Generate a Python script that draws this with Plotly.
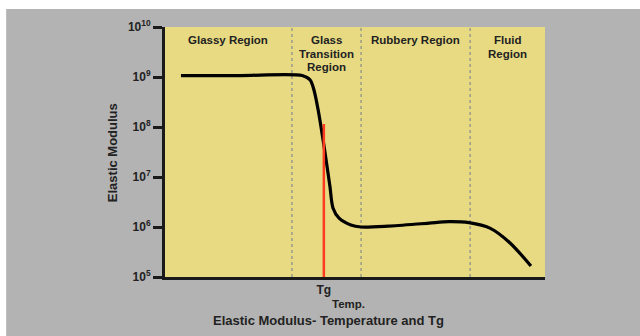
import plotly.graph_objects as go

# Temperature (arbitrary units) and elastic modulus (Pa) along the curve
temp = [4.2, 20, 36.1, 38.2, 39.2, 40.3, 42.0, 43.4, 44.2, 45.8, 48.9, 51.6,
        58.7, 69.5, 74.7, 80.0, 85.5, 90.8, 96.3]
modulus = [1.07e9, 1.07e9, 1.07e9, 8.7e8, 5.5e8, 2.2e8, 3.5e7, 6.5e6, 2.4e6,
           1.5e6, 1.1e6, 1.0e6, 1.04e6, 1.2e6, 1.28e6, 1.22e6, 9.5e5, 4.8e5,
           1.66e5]

# Region boundaries and glass transition temperature
boundaries = [33.4, 51.6, 80.3]
tg = 41.8
tg_top = 1.15e8
x_min, x_max = 0, 100

regions = [["Glassy Region"], ["Glass", "Transition", "Region"],
           ["Rubbery Region"], ["Fluid", "Region"]]

y_tick_vals = [1e5, 1e6, 1e7, 1e8, 1e9, 1e10]
y_tick_text = ["<b>10<sup>5</sup></b>", "<b>10<sup>6</sup></b>",
               "<b>10<sup>7</sup></b>", "<b>10<sup>8</sup></b>",
               "<b>10<sup>9</sup></b>", "<b>10<sup>10</sup></b>"]

FONT = "Liberation Sans, Arial, sans-serif"
TXT = "#222222"

fig = go.Figure()

# Modulus curve
fig.add_trace(go.Scatter(
    x=temp, y=modulus, mode="lines",
    line=dict(color="#000000", width=3.2, shape="spline", smoothing=0.8),
    showlegend=False))

# Glass transition temperature marker line (drawn above the curve)
fig.add_trace(go.Scatter(
    x=[tg, tg], y=[1e5, tg_top], mode="lines",
    line=dict(color="#ff3b1f", width=2.5), hoverinfo="skip", showlegend=False))

# Dashed region dividers
for b in boundaries:
    fig.add_shape(type="line", xref="x", yref="paper", x0=b, x1=b, y0=0, y1=1,
                  line=dict(color="#9a9a8a", width=1.5, dash="dot"),
                  layer="below")

# Region labels centred in each band, one annotation per line for tight leading
edges = [x_min] + boundaries + [x_max]
for i, lines in enumerate(regions):
    for j, line in enumerate(lines):
        fig.add_annotation(x=(edges[i] + edges[i + 1]) / 2, y=1, xref="x",
                           yref="paper", yanchor="middle",
                           yshift=-13 - 13.5 * j,
                           text="<b>" + line + "</b>", showarrow=False,
                           font=dict(family=FONT, size=11.5, color=TXT),
                           align="center")

# Thin white frame strips along the top and left edges
fig.add_shape(type="rect", xref="paper", yref="paper", x0=-0.5, x1=1.3,
              y0=1.072, y1=1.2, fillcolor="white", line_width=0, layer="below")
fig.add_shape(type="rect", xref="paper", yref="paper", x0=-0.5, x1=-0.418,
              y0=-0.3, y1=1.2, fillcolor="white", line_width=0, layer="below")

# Axis captions
fig.add_annotation(x=-0.139, y=0.496, xref="paper", yref="paper",
                   xanchor="center", yanchor="middle",
                   text="<b>Elastic Modulus</b>", textangle=-90,
                   showarrow=False, font=dict(family=FONT, size=13, color=TXT))
fig.add_annotation(x=48.2, y=-0.108, xref="x", yref="paper",
                   xanchor="center", yanchor="middle",
                   text="<b>Temp.</b>", showarrow=False,
                   font=dict(family=FONT, size=11.5, color=TXT))
fig.add_annotation(x=42.9, y=-0.172, xref="x", yref="paper",
                   xanchor="center", yanchor="middle",
                   text="<b>Elastic Modulus- Temperature and Tg</b>",
                   showarrow=False, font=dict(family=FONT, size=13, color=TXT))

fig.update_layout(
    width=640, height=336,
    margin=dict(l=165, r=95, t=27, b=59),
    paper_bgcolor="#b3b3b3",
    plot_bgcolor="#e8da82",
    font=dict(family=FONT, color=TXT),
    xaxis=dict(range=[x_min, x_max], showgrid=False, zeroline=False,
               showline=True, linecolor="#1a1a1a", linewidth=3,
               tickvals=[tg], ticktext=["<b>Tg</b>"], ticks="",
               tickfont=dict(family=FONT, size=12, color=TXT)),
    yaxis=dict(type="log", range=[5, 10], showgrid=False, zeroline=False,
               showline=True, linecolor="#1a1a1a", linewidth=3,
               tickvals=y_tick_vals, ticktext=y_tick_text,
               ticks="outside", ticklen=9, tickwidth=2.5,
               tickcolor="#1a1a1a",
               tickfont=dict(family=FONT, size=12, color=TXT)),
)

fig.write_html("out.html")
